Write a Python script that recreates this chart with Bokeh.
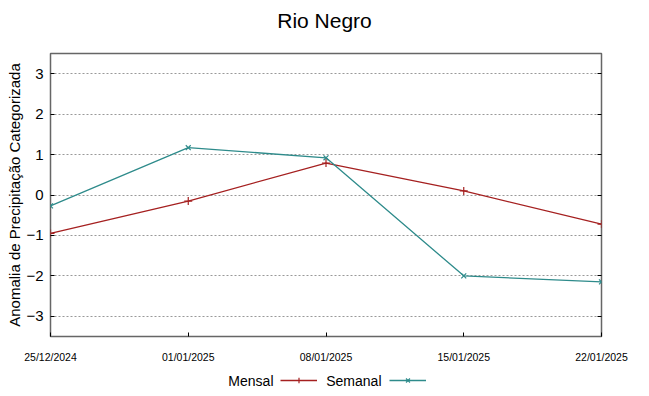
from datetime import datetime
from bokeh.plotting import figure
from bokeh.layouts import column
from bokeh.models import (FixedTicker, DatetimeTickFormatter, LinearAxis, Legend, LegendItem,
                          Range1d, Label)
from bokeh.embed import file_html
from bokeh.resources import INLINE

title_text = "Rio Negro"
y_label = "Anomalia de Precipitação Categorizada"
dates = ["2024-12-25", "2025-01-01", "2025-01-08", "2025-01-15", "2025-01-22"]
tick_labels = ["25/12/2024", "01/01/2025", "08/01/2025", "15/01/2025", "22/01/2025"]
mensal = [-0.95, -0.15, 0.79, 0.10, -0.72]
semanal = [-0.27, 1.17, 0.92, -2.0, -2.15]
y_ticks = [-3, -2, -1, 0, 1, 2, 3]
series_names = ["Mensal", "Semanal"]

xs = [datetime.strptime(d, "%Y-%m-%d") for d in dates]
xms = [x.timestamp() * 1000 for x in xs]

FONT = "Liberation Sans"
RED = "#a52020"
TEAL = "#2e8b8b"


def strip(height):
    f = figure(width=633, height=height, output_backend="svg", toolbar_location=None,
               x_range=Range1d(0, 1), y_range=Range1d(0, 1),
               min_border_left=0, min_border_right=0, min_border_top=0, min_border_bottom=0)
    f.axis.visible = False
    f.grid.visible = False
    f.outline_line_color = None
    return f


# ---- title strip ----
t = strip(40)
t.add_layout(Label(x=274, y=20, x_units="screen", y_units="screen", text=title_text,
                   text_font=FONT, text_font_size="21px", text_align="center",
                   text_baseline="middle", text_color="#000000"))

# ---- main chart ----
p = figure(width=633, height=326, output_backend="svg", toolbar_location=None,
           x_axis_type="datetime",
           x_range=Range1d(xms[0], xms[-1]), y_range=Range1d(-3.5, 3.5),
           min_border_left=50, min_border_right=32, min_border_top=13, min_border_bottom=30)

p.outline_line_color = "#666666"
p.outline_line_width = 1.5

p.xgrid.visible = False
p.ygrid.ticker = FixedTicker(ticks=y_ticks)
p.ygrid.grid_line_color = "#999999"
p.ygrid.grid_line_dash = "2 2"
p.ygrid.grid_line_width = 1

xa = p.xaxis[0]
xa.ticker = FixedTicker(ticks=xms)
xa.formatter = DatetimeTickFormatter(days="%d/%m/%Y", months="%d/%m/%Y", years="%d/%m/%Y")
xa.major_label_text_font = FONT
xa.major_label_text_font_size = "10.5px"
xa.major_label_text_color = "#000000"
xa.major_label_standoff = 14
xa.axis_line_color = None
xa.major_tick_in = 4
xa.major_tick_out = 0
xa.minor_tick_line_color = None

ya = p.yaxis[0]
ya.ticker = FixedTicker(ticks=y_ticks)
ya.major_label_text_font = FONT
ya.major_label_text_font_size = "15px"
ya.major_label_text_color = "#000000"
ya.major_label_standoff = 7
ya.axis_line_color = None
ya.major_tick_in = 4
ya.major_tick_out = 0
ya.minor_tick_line_color = None
ya.axis_label = y_label
ya.axis_label_text_font = FONT
ya.axis_label_text_font_size = "15px"
ya.axis_label_text_font_style = "normal"
ya.axis_label_text_color = "#000000"
ya.axis_label_standoff = 0

ra = LinearAxis(ticker=FixedTicker(ticks=y_ticks), major_label_text_font_size="0px",
                axis_line_color=None, major_tick_in=4, major_tick_out=0,
                minor_tick_line_color=None, major_label_standoff=0)
p.add_layout(ra, "right")

p.line(xms, mensal, line_color=RED, line_width=1.3)
p.scatter(xms, mensal, marker="cross", size=8, line_color=RED, line_width=1.2)
p.line(xms, semanal, line_color=TEAL, line_width=1.3)
p.scatter(xms, semanal, marker="x", size=7, line_color=TEAL, line_width=1.2)

# ---- key strip (gnuplot style: label, then sample line) ----
k = strip(28)
# key renderers use the same series (they fall outside the strip's range, only their legend glyphs show)
k1 = k.line(xms, mensal, line_color=RED, line_width=1.3)
k1m = k.scatter(xms, mensal, marker="cross", size=8, line_color=RED, line_width=1.2)
k2 = k.line(xms, semanal, line_color=TEAL, line_width=1.3)
k2m = k.scatter(xms, semanal, marker="x", size=7, line_color=TEAL, line_width=1.2)

for name, rends, tx, gx in [(series_names[0], [k1, k1m], 223, 230),
                            (series_names[1], [k2, k2m], 331, 339)]:
    k.add_layout(Label(x=tx, y=14, x_units="screen", y_units="screen", text=name,
                       text_font=FONT, text_font_size="14px", text_align="right",
                       text_baseline="middle", text_color="#000000"))
    k.add_layout(Legend(items=[LegendItem(label=" ", renderers=rends)],
                        location=(gx, 7), orientation="horizontal",
                        label_text_font_size="1px",
                        border_line_color=None, background_fill_alpha=0,
                        glyph_width=37, glyph_height=14, label_height=14, label_width=0,
                        label_standoff=0, padding=0, margin=0, spacing=0))

layout = column(t, p, k, spacing=0)
open("out.html", "w").write(file_html(layout, INLINE))
